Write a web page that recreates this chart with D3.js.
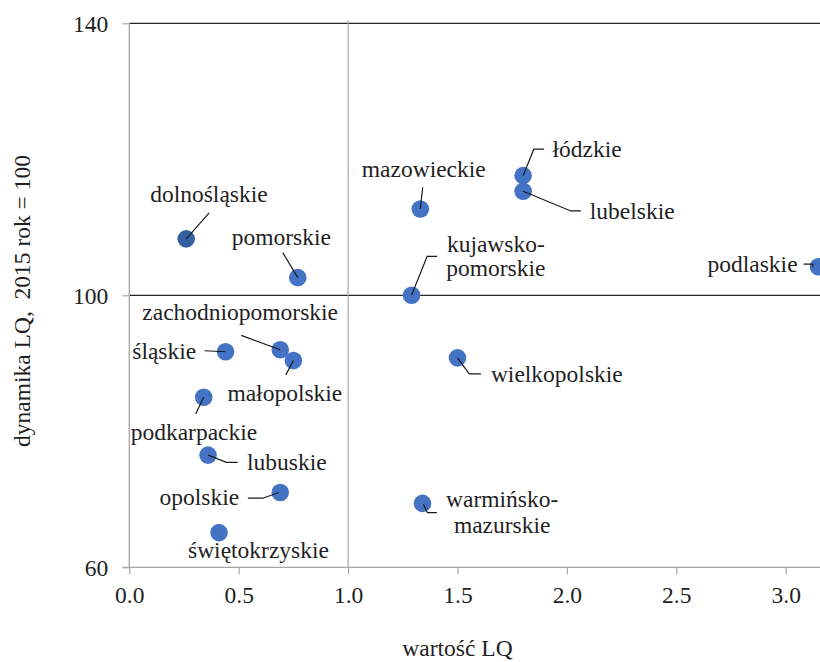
<!DOCTYPE html>
<html>
<head>
<meta charset="utf-8">
<script src="https://cdn.jsdelivr.net/npm/d3@7"></script>
<style>
  html, body { margin: 0; padding: 0; background: #fff; }
  svg { display: block; }
</style>
</head>
<body>
<svg id="chart" width="820" height="662"></svg>
<script>
// ---- data ----
const regions = ["dolnośląskie","pomorskie","mazowieckie","łódzkie","lubelskie","kujawsko-pomorskie","podlaskie",
  "zachodniopomorskie","śląskie","małopolskie","podkarpackie","lubuskie","opolskie","świętokrzyskie","wielkopolskie","warmińsko-mazurskie"];
const lqValue = [0.26,0.77,1.33,1.80,1.80,1.29,3.15,0.69,0.44,0.75,0.34,0.36,0.69,0.41,1.50,1.34];
const lqDynamics = [108.3,102.6,112.7,117.6,115.3,100.0,104.2,92.0,91.7,90.4,85.0,76.5,71.0,65.1,90.8,69.4];
const xTicks = [0,0.5,1.0,1.5,2.0,2.5,3.0];
const yTicks = [60,100,140];
const xTitle = "wartość LQ";
const yTitle = "dynamika LQ,  2015 rok = 100";

// ---- label layout (offsets from the point centre, px) ----
const labelLayout = {
  "dolnośląskie":        {lines:["dolnośląskie"], anchor:"start", dx:-36, dy:[-37], leader:[[23,-26],[0,0]]},
  "pomorskie":           {lines:["pomorskie"], anchor:"start", dx:-66, dy:[-33], leader:[[-15,-25],[0,0]]},
  "mazowieckie":         {lines:["mazowieckie"], anchor:"start", dx:-58.5, dy:[-31.5], leader:[[2.4,-21.7],[0,0]]},
  "łódzkie":             {lines:["łódzkie"], anchor:"start", dx:29.4, dy:[-19], leader:[[0,0],[10.7,-26.4],[21,-26.4]]},
  "lubelskie":           {lines:["lubelskie"], anchor:"start", dx:66.7, dy:[28], leader:[[0,0],[47.7,19.7],[57.7,19.7]]},
  "kujawsko-pomorskie":  {lines:["kujawsko-","pomorskie"], anchor:"middle", dx:84.3, dy:[-43.4,-19], leader:[[0,0],[15.6,-39],[25.6,-39]]},
  "podlaskie":           {lines:["podlaskie"], anchor:"start", dx:-111, dy:[5], leader:[[-15,-2.7],[-5.6,-2.7],[-5.6,0]]},
  "zachodniopomorskie":  {lines:["zachodniopomorskie"], anchor:"start", dx:-138, dy:[-30], leader:[[-39,-14.3],[0,0]]},
  "śląskie":             {lines:["śląskie"], anchor:"start", dx:-93.3, dy:[7], leader:[[-21,-1],[0,0]]},
  "małopolskie":         {lines:["małopolskie"], anchor:"start", dx:-66, dy:[40.3], leader:[[0,0],[-7.6,14.3]]},
  "podkarpackie":        {lines:["podkarpackie"], anchor:"start", dx:-73, dy:[42.7], leader:[[0,0],[-8,16.7]]},
  "lubuskie":            {lines:["lubuskie"], anchor:"start", dx:39, dy:[15], leader:[[0,0],[18.3,7.3],[29.6,7.3]]},
  "opolskie":            {lines:["opolskie"], anchor:"start", dx:-120.7, dy:[12], leader:[[-32.4,5.7],[-17.4,5.7],[-1.4,0]]},
  "świętokrzyskie":      {lines:["świętokrzyskie"], anchor:"start", dx:-31, dy:[25.6], leader:null},
  "wielkopolskie":       {lines:["wielkopolskie"], anchor:"start", dx:33.4, dy:[24.4], leader:[[0,0],[11.7,16],[23.4,16]]},
  "warmińsko-mazurskie": {lines:["warmińsko-","mazurskie"], anchor:"middle", dx:79.7, dy:[3.3,30], leader:[[1,1],[5,9.3],[14.4,9.3]]}
};

(function () {
const svg = d3.select("#chart");
const mLeft = 129.3, mTop = 23.3, mBottom = 567.3;
const x = d3.scaleLinear().domain([0, 3.5]).range([mLeft, mLeft + 3.5 * 218.8]);
const y = d3.scaleLinear().domain([60, 140]).range([mBottom, mTop]);
const fontSize = "23.5px";
const axisGray = "#a6a6a6";
const darkLine = "#262626";
const textColor = "#1f1f1f";
const serif = "Liberation Serif";
const styleText = sel => sel.style("font-family", serif).style("font-size", fontSize).style("fill", textColor);

// gridlines at 100 and 140 (dark)
svg.append("g").selectAll("line").data(yTicks.filter(t => t !== 60)).join("line")
  .attr("x1", mLeft).attr("x2", 820)
  .attr("y1", d => y(d)).attr("y2", d => y(d))
  .attr("stroke", darkLine).attr("stroke-width", 1.3);

// vertical reference line at LQ = 1
svg.append("line")
  .attr("x1", x(1)).attr("x2", x(1)).attr("y1", mTop - 2.5).attr("y2", mBottom)
  .attr("stroke", axisGray).attr("stroke-width", 1.2);

// x axis
const xAxis = svg.append("g").attr("transform", `translate(0,${mBottom})`)
  .call(d3.axisBottom(x).tickValues(xTicks).tickSize(7).tickFormat(d3.format(".1f")));
xAxis.select(".domain").attr("stroke", axisGray).attr("stroke-width", 1.3).attr("d", `M${mLeft - 7},0H900`);
xAxis.selectAll(".tick line").attr("stroke", axisGray).attr("stroke-width", 1.2);
xAxis.selectAll(".tick text").attr("dy", null).attr("y", 36).call(styleText);

// y axis
const yAxis = svg.append("g").attr("transform", `translate(${mLeft},0)`)
  .call(d3.axisLeft(y).tickValues(yTicks).tickSize(7).tickFormat(d3.format("d")));
yAxis.select(".domain").attr("stroke", axisGray).attr("stroke-width", 1.3).attr("d", `M0,${mTop}V${mBottom}`);
yAxis.selectAll(".tick line").attr("stroke", axisGray).attr("stroke-width", 1.2);
yAxis.selectAll(".tick text").attr("dy", null).attr("x", -21).attr("y", 7.8).call(styleText);

// axis titles
svg.append("text").attr("x", 457.5).attr("y", 655.5).attr("text-anchor", "middle")
  .call(styleText).text(xTitle);
svg.append("text").attr("transform", "translate(30,301) rotate(-90)").attr("text-anchor", "middle")
  .call(styleText).style("white-space", "pre").text(yTitle);

const pts = regions.map((r, i) => ({name: r, x: lqValue[i], y: lqDynamics[i]}));
const line = d3.line();
const leaderPath = p => line(labelLayout[p.name].leader.map(([dx, dy]) => [x(p.x) + dx, y(p.y) + dy]));

// points
svg.append("g").selectAll("circle").data(pts).join("circle")
  .attr("cx", p => x(p.x)).attr("cy", p => y(p.y)).attr("r", 8.8)
  .attr("fill", p => p.name === "dolnośląskie" ? "#34609f" : "#4472c4");

// leaders (run into the point centre)
svg.append("g").selectAll("path").data(pts.filter(p => labelLayout[p.name].leader)).join("path")
  .attr("d", leaderPath)
  .attr("fill", "none").attr("stroke", "#1a1a1a").attr("stroke-width", 1.2);

// labels
const lbl = svg.append("g").selectAll("text").data(pts).join("text")
  .call(styleText)
  .attr("text-anchor", p => labelLayout[p.name].anchor);
lbl.each(function(p) {
  const L = labelLayout[p.name];
  const t = d3.select(this);
  L.lines.forEach((s, k) => {
    t.append("tspan").attr("x", x(p.x) + L.dx).attr("y", y(p.y) + L.dy[k]).text(s);
  });
});
})();
</script>
</body>
</html>
